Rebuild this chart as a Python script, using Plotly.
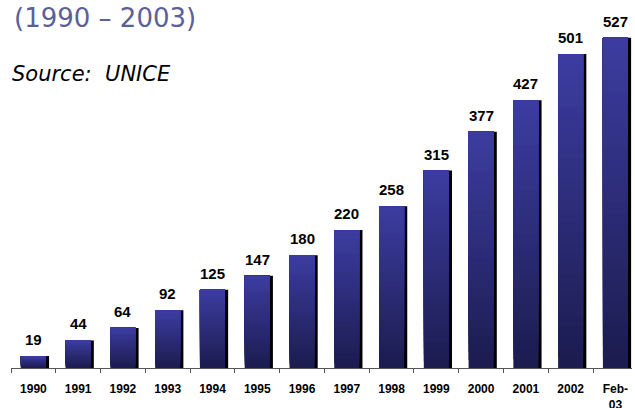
import plotly.graph_objects as go

categories = ["1990", "1991", "1992", "1993", "1994", "1995", "1996", "1997",
              "1998", "1999", "2000", "2001", "2002", "Feb-<br>03"]
values = [19, 44, 64, 92, 125, 147, 180, 220, 258, 315, 377, 427, 501, 527]

N = 30
top_rgb = (60, 60, 160)
bot_rgb = (28, 28, 80)
BW = 0.56

fig = go.Figure()
# shadow
fig.add_trace(go.Bar(x=categories, y=values, width=BW, offset=-BW / 2 + 0.07,
                     marker=dict(color="#000000", line=dict(width=0)),
                     hoverinfo="skip", showlegend=False))
# gradient layers
for k in range(N):
    f = k / (N - 1)
    c = tuple(round(bot_rgb[i] + (top_rgb[i] - bot_rgb[i]) * f) for i in range(3))
    fig.add_trace(go.Bar(
        x=categories,
        base=[v * k / N for v in values],
        y=[v * (N - k) / N for v in values],
        width=BW, offset=-BW / 2,
        marker=dict(color="rgb(%d,%d,%d)" % c, line=dict(width=0)),
        hoverinfo="skip", showlegend=False))

# value labels (x given as category index)
for i, v in enumerate(values):
    fig.add_annotation(x=i, y=v, text="<b>%d</b>" % v, showarrow=False,
                       xanchor="center", yanchor="bottom", yshift=6,
                       font=dict(family="Liberation Sans, Arial", size=15,
                                 color="#000000"))

PW, PH = 621, 351
fig.update_layout(
    width=635, height=408,
    margin=dict(l=11, r=3, t=17, b=40),
    paper_bgcolor="white", plot_bgcolor="white",
    barmode="overlay",
    xaxis=dict(type="category", range=[-0.5, 13.37], showgrid=False,
               automargin=False,
               showline=True, linecolor="#555555", linewidth=1,
               ticks="outside", tickson="boundaries", ticklen=4,
               tickcolor="#555555", ticklabelstandoff=10,
               tickfont=dict(family="Liberation Sans, Arial", size=12,
                             color="#000000"),
               tickprefix="<b>", ticksuffix="</b>"),
    yaxis=dict(range=[0, 560], visible=False, showgrid=False, automargin=False),
)
fig.add_annotation(text="(1990 – 2003)", xref="paper", yref="paper",
                   x=(12 - 11) / PW, y=1 + (17 - 18) / PH,
                   xanchor="left", yanchor="middle", showarrow=False,
                   font=dict(family="DejaVu Sans, Verdana", size=26,
                             color="#5b5f9a"))
fig.add_annotation(text="<i>Source:  UNICE</i>", xref="paper", yref="paper",
                   x=(10 - 11) / PW, y=(368 - 74) / PH,
                   xanchor="left", yanchor="middle", showarrow=False,
                   font=dict(family="DejaVu Sans, Verdana", size=21,
                             color="#000000"))

fig.write_html("out.html", config={"displayModeBar": False},
               post_script="document.body.style.margin='0';")
